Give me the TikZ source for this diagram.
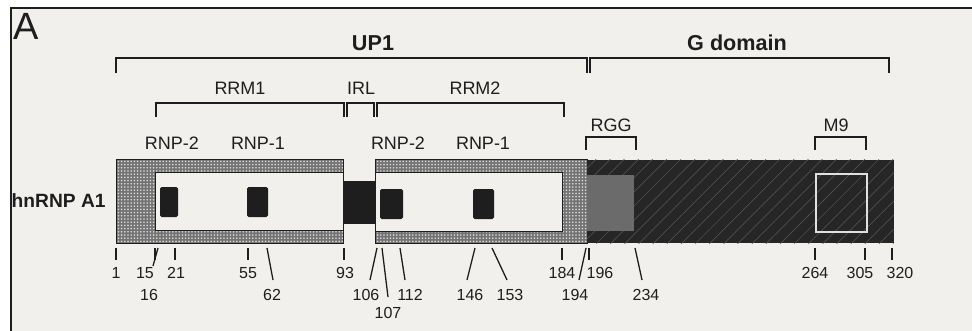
\documentclass[tikz,border=0pt]{standalone}
\usepackage{fontspec}
\setmainfont{Liberation Sans}
\usetikzlibrary{patterns.meta}

\definecolor{paper}{HTML}{F1F0ED}
\definecolor{ink}{HTML}{1E1E1E}

\begin{document}
\begin{tikzpicture}[x=0.5pt, y=-0.5pt,
    bracket/.style={draw=ink, line width=0.7pt},
    tick/.style={draw=ink, line width=0.65pt},
    lbl/.style={font=\fontsize{9}{11}\selectfont, text=ink, inner sep=0pt},
    title/.style={font=\fontsize{10.8}{12}\selectfont\bfseries, text=ink, inner sep=0pt},
    num/.style={font=\fontsize{8}{10}\selectfont, text=ink, inner sep=0pt},
    stipple/.style={draw=ink, line width=0.5pt, preaction={fill=black!55},
        pattern={Dots[radius=0.45pt, distance=1.6pt]}, pattern color=white!85!black},
    hole/.style={fill=paper, draw=ink, line width=0.5pt},
    rnp/.style={fill=ink, rounded corners=0.8pt},
    gdom/.style={preaction={fill=black!85},
        pattern={Lines[angle=45, distance=5pt, line width=0.25pt]}, pattern color=white!35!black}]
  \useasboundingbox (0,0) rectangle (972,331);
  \fill[white] (0,0) rectangle (972,331);
  \fill[paper] (11,8) rectangle (972,331);
  \draw[ink, line width=1.1pt] (11,331) -- (11,8) -- (972,8);

  \node[font=\fontsize{19}{21}\selectfont, text=ink, anchor=north west, inner sep=0pt] (panel) at (13,13) {A};

  % domain brackets
  \draw[bracket] (116,73) |- (587,58) -- (587,73);
  \draw[bracket] (590,73) |- (889,58) -- (889,73);
  \draw[bracket] (156,117) |- (344,103) -- (344,117);
  \draw[bracket] (347,117) |- (374,103) -- (374,117);
  \draw[bracket] (377,117) |- (564,103) -- (564,117);
  \draw[bracket] (586,150) |- (636,137) -- (636,150);
  \draw[bracket] (815,150) |- (866,137) -- (866,150);

  \node[title] (up1) at (373,43) {UP1};
  \node[title] (gdomain) at (737,43) {G domain};
  \node[lbl] (rrm1) at (240,88) {RRM1};
  \node[lbl] (irl) at (361,88) {IRL};
  \node[lbl] (rrm2) at (475,88) {RRM2};
  \node[lbl] (rnp2a) at (172,143) {RNP-2};
  \node[lbl] (rnp1a) at (258,143) {RNP-1};
  \node[lbl] (rnp2b) at (398,143) {RNP-2};
  \node[lbl] (rnp1b) at (483,143) {RNP-1};
  \node[lbl] (rgg) at (611,125) {RGG};
  \node[lbl] (m9) at (836,125) {M9};

  % protein bar
  \draw[stipple] (116,160) rectangle (343,243);
  \draw[hole] (155,173) rectangle (343,230);
  \fill[ink] (343,181) rectangle (375,224);
  \draw[stipple] (375,160) rectangle (587,243);
  \draw[hole] (375,173) rectangle (562,231);
  \fill[gdom] (587,160) rectangle (894,243);
  \fill[black!58] (587,175) rectangle (634,231);
  \draw[white!88!black, line width=0.6pt] (816,174) rectangle (867,232);
  \fill[rnp] (160,187) rectangle (178,217);
  \fill[rnp] (247,187) rectangle (268,217);
  \fill[rnp] (380,189) rectangle (403,219);
  \fill[rnp] (473,189) rectangle (494,219);

  \node[title, font=\fontsize{9.6}{11}\selectfont\bfseries, anchor=east] (hnrnp) at (106,201) {hnRNP A1};

  % residue numbers
  \foreach \n/\xa/\xb/\yb/\lx/\ly in {1/116/116/260/116/273, 15/155/155/260/145/273,
      16/158/153/266/149/295, 21/175/175/260/176/273, 55/248/248/260/248/273,
      62/267/273/280/272/295, 93/344/344/260/345/273, 106/377/370/280/366/295,
      107/382/388/297/388/313, 112/400/405/280/410/295, 146/475/467/280/470/295,
      153/492/507/280/510/295, 184/562/562/260/562/273, 194/586/579/280/575/295,
      196/589/589/260/600/273, 234/635/642/280/646/295, 264/815/815/260/815/273,
      305/865/865/260/860/273, 320/892/892/260/900/273}{
    \coordinate (t\n) at (\xa,248);
    \coordinate (b\n) at (\xb,\yb);
    \node[num] (n\n) at (\lx,\ly) {\n};
    \draw[tick] (t\n) -- (b\n);
  }
\end{tikzpicture}
\end{document}
